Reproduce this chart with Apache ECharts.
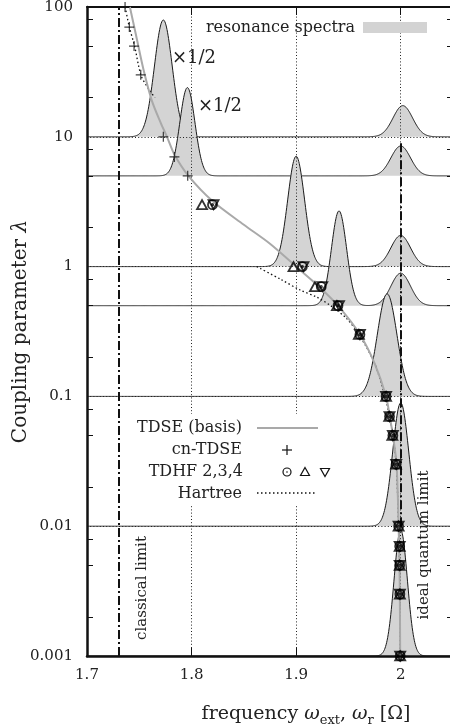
<!DOCTYPE html>
<html>
<head>
<meta charset="utf-8">
<script src="https://cdn.jsdelivr.net/npm/echarts@6/dist/echarts.min.js"></script>
<style>
html, body { margin: 0; padding: 0; background: #fff; }
#chart { width: 450px; height: 727px; }
</style>
</head>
<body>
<div id="chart"></div>
<script>
// axis ranges / ticks
const xMin = 1.7, xMax = 2.05;
const xTicks = [1.7, 1.8, 1.9, 2];
const yMinorTicks = [0.002, 0.005, 0.008, 0.02, 0.05, 0.08, 0.2, 0.5, 0.8, 2, 5, 8, 20, 50, 80];
const yMajorTicks = [0.001, 0.01, 0.1, 1, 10, 100];
const classicalLimit = 1.732;
const quantumLimit = 2.0;

// resonance spectra: baseline lambda, peak centre, FWHM, peak height (decades)
const spectrumBase = [10, 5, 1, 0.5, 0.1, 0.01, 0.001];
const peakCenter = [[1.773, 2.002], [1.796, 2.0], [1.900, 2.0], [1.941, 2.0], [1.987], [2.0], [2.0]];
const peakFwhm = [[0.020, 0.022], [0.017, 0.022], [0.019, 0.022], [0.017, 0.022], [0.022], [0.018], [0.015]];
const peakHeight = [[0.90, 0.24], [0.68, 0.23], [0.85, 0.24], [0.73, 0.25], [0.79], [0.95], [0.97]];

// TDSE (basis)
const tdseFreq = [1.741, 1.747, 1.754, 1.762, 1.7705, 1.7765, 1.784, 1.797, 1.820, 1.850, 1.875, 1.900, 1.922, 1.940, 1.961, 1.975, 1.986, 1.9895, 1.9925, 1.996, 1.998, 1.999, 1.9995];
const tdseLambda = [100, 60, 33, 19, 12.8, 10, 7.2, 5, 3.2, 2.1, 1.5, 1.0, 0.7, 0.5, 0.3, 0.18, 0.1, 0.07, 0.05, 0.03, 0.01, 0.004, 0.001];

// cn-TDSE
const cnFreq = [1.7364, 1.7405, 1.745, 1.7514, 1.773, 1.7836, 1.7963];
const cnLambda = [100, 70, 50, 30, 10, 7, 5];

// TDHF 2,3,4
const tdhfLambda = [3, 1, 0.7, 0.5, 0.3, 0.1, 0.07, 0.05, 0.03, 0.01, 0.007, 0.005, 0.003, 0.001];
const tdhf2Freq = [1.820, 1.906, 1.924, 1.940, 1.961, 1.986, 1.9893, 1.9925, 1.9957, 1.998, 1.999, 1.999, 1.9992, 1.9995];
const tdhf3Freq = [1.810, 1.8975, 1.918, 1.939, 1.960, 1.986, 1.989, 1.992, 1.9955, 1.998, 1.999, 1.999, 1.9992, 1.9995];
const tdhf4Freq = [1.821, 1.907, 1.925, 1.941, 1.961, 1.986, 1.9893, 1.9925, 1.9957, 1.998, 1.999, 1.999, 1.9992, 1.9995];

// Hartree (two branches)
const hartreeUpFreq = [1.7365, 1.7405, 1.7455, 1.7515, 1.758, 1.765];
const hartreeUpLambda = [100, 70, 50, 30, 24, 20];
const hartreeLowFreq = [1.8624, 1.885, 1.9038, 1.920, 1.933, 1.948, 1.960, 1.975, 1.985, 1.9893, 1.9925, 1.9957, 1.998, 1.999, 1.9995];
const hartreeLowLambda = [1.0, 0.8, 0.66, 0.58, 0.5, 0.4, 0.3, 0.18, 0.1, 0.07, 0.05, 0.03, 0.01, 0.004, 0.001];

const FONT = "DejaVu Serif";
const INK = "#111";

const zip = (xs, ys) => xs.map((x, i) => [x, ys[i]]);

const PLUS = "path://M5,0 L5,10 M0,5 L10,5";
const ODOT = "path://M10,5 A5,5 0 1 1 0,5 A5,5 0 1 1 10,5 Z M5.8,5 A0.8,0.8 0 1 1 4.2,5 A0.8,0.8 0 1 1 5.8,5 Z";
const TRI_UP = "path://M5,0 L10,8.66 L0,8.66 Z";
const TRI_DOWN = "path://M0,0 L10,0 L5,8.66 Z";

function renderSpectrum(params, api) {
  const i = params.dataIndex;
  const base = spectrumBase[i];
  const pts = [];
  for (let k = 0; k <= 700; k++) {
    const x = xMin + k * 0.0005;
    let d = 0;
    peakCenter[i].forEach((c, j) => {
      const u = (x - c) / peakFwhm[i][j];
      d += peakHeight[i][j] * Math.exp(-4 * Math.LN2 * u * u);
    });
    pts.push(api.coord([x, base * Math.pow(10, d)]));
  }
  const b0 = api.coord([xMin, base]);
  const b1 = api.coord([xMax, base]);
  return {
    type: "group",
    children: [
      { type: "polygon", shape: { points: pts.concat([b1, b0]) }, style: { fill: "#d4d4d4" } },
      { type: "polyline", shape: { points: pts }, style: { fill: null, stroke: "#1a1a1a", lineWidth: 1 } }
    ]
  };
}

function markerSeries(name, symbol, size, freq) {
  return {
    name: name,
    type: "scatter",
    z: 6,
    symbol: symbol,
    symbolSize: size,
    itemStyle: { color: "rgba(0,0,0,0)", borderColor: "#000", borderWidth: 1.8 },
    data: zip(freq, tdhfLambda)
  };
}

const axisTextStyle = { fontFamily: FONT, fontSize: 15, color: "#222" };
const dotted = { type: [1, 2.2], color: "#222", width: 1 };

const chart = echarts.init(document.getElementById("chart"));
chart.setOption({
  animation: false,
  grid: { left: 87, right: -3, top: 7, bottom: 71, outerBoundsMode: "none", containLabel: false },
  xAxis: [
    {
      type: "value", min: xMin, max: xMax, interval: 0.1, position: "bottom", z: 3,
      axisLine: { lineStyle: { color: INK, width: 2.5 } },
      axisTick: { inside: true, length: 8, customValues: xTicks, lineStyle: { color: INK } },
      axisLabel: Object.assign({ margin: 12, customValues: xTicks, formatter: v => String(+v.toFixed(2)) }, axisTextStyle),
      splitLine: { show: true, lineStyle: dotted }
    },
    {
      type: "value", min: xMin, max: xMax, interval: 0.1, position: "top", z: 3,
      axisLine: { lineStyle: { color: INK, width: 2 } },
      axisTick: { inside: true, length: 8, customValues: xTicks, lineStyle: { color: INK } },
      axisLabel: { show: false },
      splitLine: { show: false }
    }
  ],
  yAxis: [
    {
      type: "log", logBase: 10, min: 0.001, max: 100, position: "left", z: 3,
      name: "{a|Coupling parameter }{i|λ}",
      nameLocation: "middle", nameGap: 56, nameMoveOverlap: false,
      nameTextStyle: {
        rich: {
          a: { fontFamily: FONT, fontSize: 20, color: "#222" },
          i: { fontFamily: FONT, fontSize: 20, fontStyle: "italic", color: "#222" }
        }
      },
      axisLine: { lineStyle: { color: INK, width: 2.5 } },
      axisTick: { inside: true, length: 6, customValues: yMinorTicks, lineStyle: { color: INK } },
      axisLabel: Object.assign({ margin: 14, customValues: yMajorTicks, formatter: v => String(v) }, axisTextStyle),
      splitLine: { show: false }
    },
    {
      type: "log", logBase: 10, min: 0.001, max: 100, position: "right", z: 3,
      axisLine: { lineStyle: { color: INK, width: 2 } },
      axisTick: { inside: true, length: 6, customValues: yMinorTicks, lineStyle: { color: INK } },
      axisLabel: { show: false },
      splitLine: { show: false }
    },
    {
      // decade grid lines only
      type: "log", logBase: 10, min: 0.001, max: 100, z: 3, splitNumber: 5,
      axisLine: { show: false }, axisTick: { show: false }, axisLabel: { show: false },
      splitLine: { show: true, lineStyle: dotted }
    }
  ],
  series: [
    {
      name: "resonance spectra",
      type: "custom",
      z: 2,
      renderItem: renderSpectrum,
      data: spectrumBase.map(b => [xMin, b])
    },
    {
      name: "Hartree",
      type: "line",
      z: 4,
      smooth: 0.3,
      showSymbol: false,
      lineStyle: { color: INK, width: 1.3, type: [1.5, 2.5] },
      data: zip(hartreeUpFreq, hartreeUpLambda)
    },
    {
      name: "Hartree",
      type: "line",
      z: 4,
      smooth: 0.3,
      showSymbol: false,
      lineStyle: { color: INK, width: 1.3, type: [1.5, 2.5] },
      data: zip(hartreeLowFreq, hartreeLowLambda)
    },
    {
      name: "TDSE (basis)",
      type: "line",
      z: 5,
      smooth: 0.3,
      showSymbol: false,
      lineStyle: { color: "#a9a9a9", width: 2 },
      data: zip(tdseFreq, tdseLambda),
      markLine: {
        silent: true,
        symbol: "none",
        label: { show: false },
        lineStyle: { color: INK, width: 2, type: [9, 3, 2, 3] },
        data: [
          { xAxis: classicalLimit },
          [{ coord: [quantumLimit, 0.01] }, { coord: [quantumLimit, 9] }]
        ]
      }
    },
    {
      name: "cn-TDSE",
      type: "scatter",
      z: 6,
      symbol: PLUS,
      symbolSize: 10,
      itemStyle: { color: "rgba(0,0,0,0)", borderColor: INK, borderWidth: 1.2 },
      data: zip(cnFreq, cnLambda)
    },
    markerSeries("TDHF 2", ODOT, 9, tdhf2Freq),
    markerSeries("TDHF 3", TRI_UP, [10, 9], tdhf3Freq),
    markerSeries("TDHF 4", TRI_DOWN, [10, 9], tdhf4Freq)
  ],
  graphic: [
    // resonance spectra key
    { type: "text", z: 11, x: 355, y: 28, style: { text: "resonance spectra", fontFamily: FONT, fontSize: 16, fill: "#222", align: "right", verticalAlign: "middle" } },
    { type: "rect", z: 11, shape: { x: 363, y: 22, width: 64, height: 11 }, style: { fill: "#d3d3d3" } },
    // scale notes
    { type: "text", z: 11, x: 194, y: 58, style: { text: "×1/2", fontFamily: FONT, fontSize: 18, fill: "#222", align: "center", verticalAlign: "middle" } },
    { type: "text", z: 11, x: 220, y: 106, style: { text: "×1/2", fontFamily: FONT, fontSize: 18, fill: "#222", align: "center", verticalAlign: "middle" } },
    // limits
    { type: "text", z: 11, x: 142, y: 588, rotation: Math.PI / 2, style: { text: "classical limit", fontFamily: FONT, fontSize: 15, fill: "#222", align: "center", verticalAlign: "middle" } },
    { type: "text", z: 11, x: 424, y: 545, rotation: Math.PI / 2, style: { text: "ideal quantum limit", fontFamily: FONT, fontSize: 15, fill: "#222", align: "center", verticalAlign: "middle" } },
    // legend box
    { type: "rect", z: 10, shape: { x: 123, y: 414, width: 222, height: 92 }, style: { fill: "#fff" } },
    { type: "text", z: 11, x: 242, y: 428, style: { text: "TDSE (basis)", fontFamily: FONT, fontSize: 16, fill: "#222", align: "right", verticalAlign: "middle" } },
    { type: "text", z: 11, x: 242, y: 450, style: { text: "cn-TDSE", fontFamily: FONT, fontSize: 16, fill: "#222", align: "right", verticalAlign: "middle" } },
    { type: "text", z: 11, x: 243, y: 472, style: { text: "TDHF 2,3,4", fontFamily: FONT, fontSize: 16, fill: "#222", align: "right", verticalAlign: "middle" } },
    { type: "text", z: 11, x: 242, y: 494, style: { text: "Hartree", fontFamily: FONT, fontSize: 16, fill: "#222", align: "right", verticalAlign: "middle" } },
    { type: "line", z: 11, shape: { x1: 257, y1: 428, x2: 318, y2: 428 }, style: { stroke: "#a9a9a9", lineWidth: 2 } },
    { type: "line", z: 11, shape: { x1: 287, y1: 445, x2: 287, y2: 455 }, style: { stroke: INK, lineWidth: 1.2 } },
    { type: "line", z: 11, shape: { x1: 282, y1: 450, x2: 292, y2: 450 }, style: { stroke: INK, lineWidth: 1.2 } },
    { type: "circle", z: 11, shape: { cx: 287, cy: 472, r: 4 }, style: { fill: null, stroke: INK, lineWidth: 1.2 } },
    { type: "circle", z: 11, shape: { cx: 287, cy: 472, r: 0.8 }, style: { fill: INK } },
    { type: "polygon", z: 11, shape: { points: [[305, 467.5], [309.5, 475.5], [300.5, 475.5]] }, style: { fill: null, stroke: INK, lineWidth: 1.2 } },
    { type: "polygon", z: 11, shape: { points: [[320.5, 468.5], [329.5, 468.5], [325, 476.5]] }, style: { fill: null, stroke: INK, lineWidth: 1.2 } },
    { type: "line", z: 11, shape: { x1: 257, y1: 493, x2: 317, y2: 493 }, style: { stroke: INK, lineWidth: 1.3, lineDash: [1.5, 2.5] } },
    // x axis title
    {
      type: "text", z: 11, x: 306, y: 714,
      style: {
        text: "{a|frequency }{i|ω}{s|ext}{a|, }{i|ω}{s|r}{a| [Ω]}",
        align: "center", verticalAlign: "middle",
        rich: {
          a: { fontFamily: FONT, fontSize: 19, fill: "#222", lineHeight: 26, verticalAlign: "middle" },
          i: { fontFamily: FONT, fontSize: 19, fontStyle: "italic", fill: "#222", lineHeight: 26, verticalAlign: "middle" },
          s: { fontFamily: FONT, fontSize: 13, fill: "#222", lineHeight: 26, verticalAlign: "bottom" }
        }
      }
    }
  ]
});
</script>
</body>
</html>
